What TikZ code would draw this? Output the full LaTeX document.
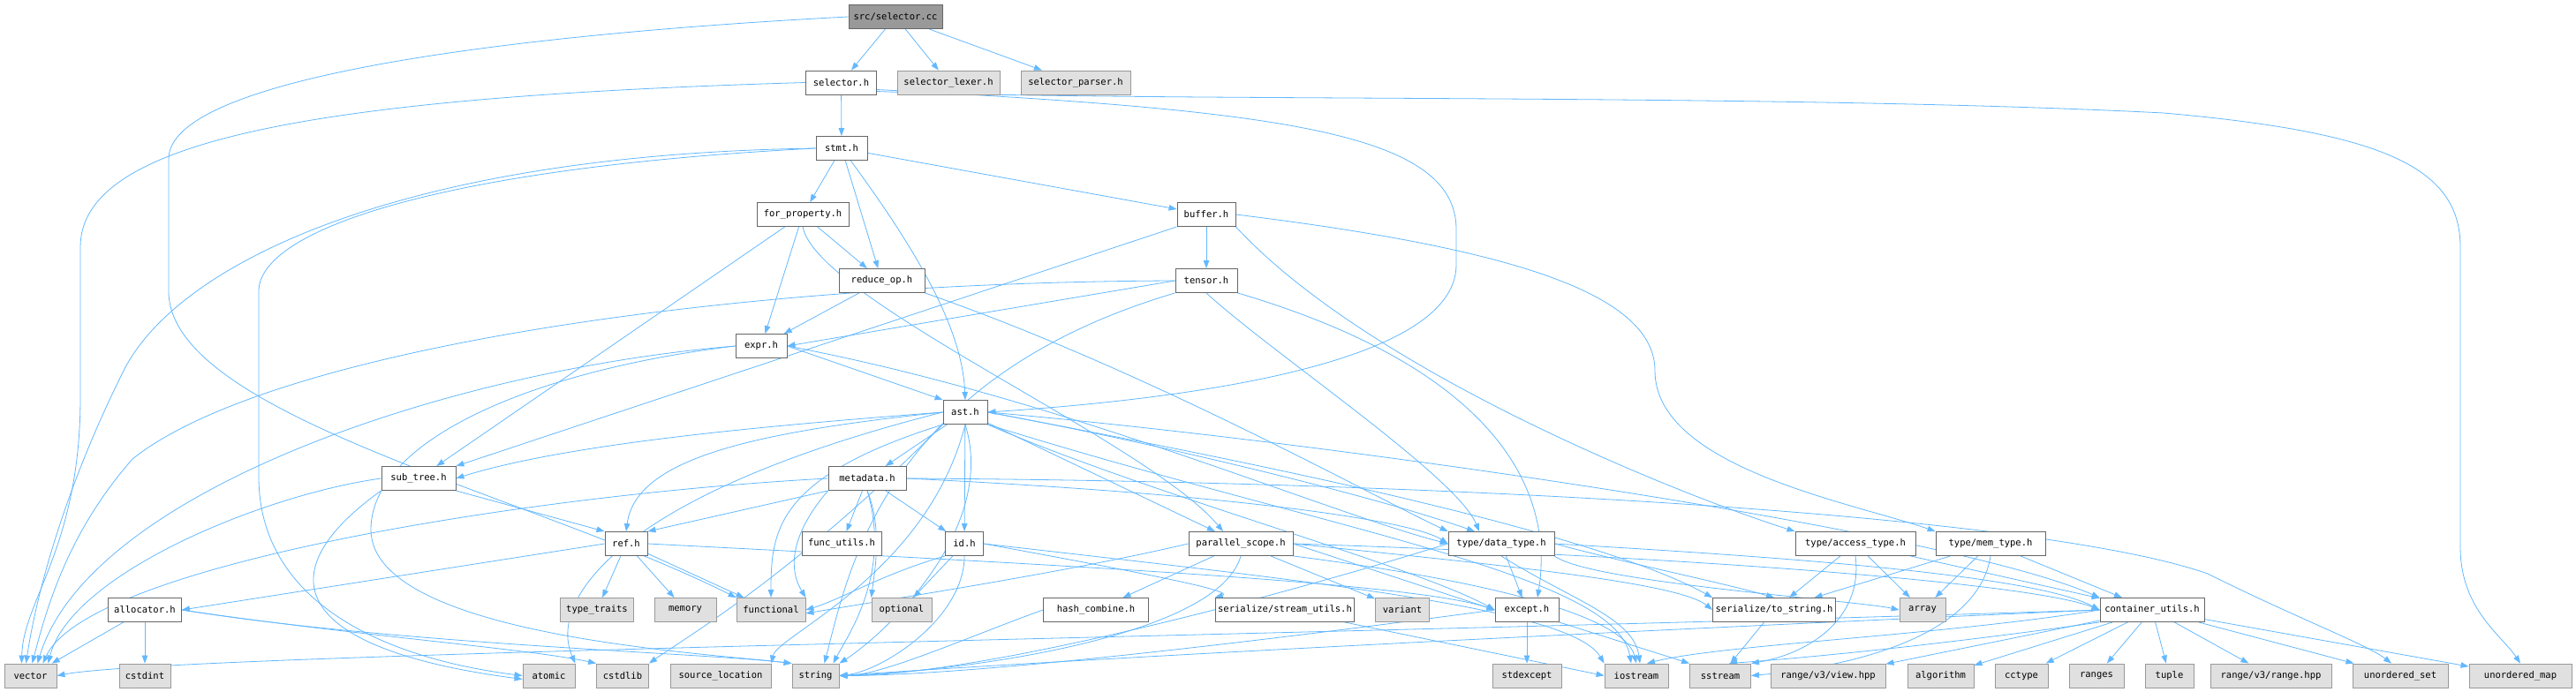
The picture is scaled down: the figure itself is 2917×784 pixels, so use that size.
\documentclass[tikz,border=0pt]{standalone}
\usepackage{fontspec}
\setmonofont{DejaVu Sans Mono}
\usetikzlibrary{arrows.meta, backgrounds}
\definecolor{kante}{HTML}{63B8FF}
\definecolor{rand}{HTML}{666666}
\definecolor{extrand}{HTML}{999999}
\definecolor{extfill}{HTML}{E0E0E0}

\begin{document}
\begin{tikzpicture}[
    x=1pt, y=-1pt,
    every node/.style={font=\ttfamily\fontsize{10.5}{12}\selectfont, inner xsep=3pt,
                       minimum height=27pt, line width=0.9pt},
    hdr/.style={draw=rand, fill=white},
    ext/.style={draw=extrand, fill=extfill},
    wurzel/.style={draw=rand, fill=extrand},
    dep/.style={kante, line width=0.8pt, -{Triangle[length=9pt,width=6.5pt]}},
  ]
  \useasboundingbox (0,0) rectangle (2917,784);

  % Ebene 0-3
  \node[wurzel, minimum width=106pt] (cc) at (1014,19) {src/selector.cc};
  \node[hdr, minimum width=80pt] (selh) at (952.5,93.5) {selector.h};
  \node[ext, minimum width=116pt] (lexer) at (1074,93.5) {selector\_lexer.h};
  \node[ext, minimum width=124pt] (parser) at (1218,93.5) {selector\_parser.h};
  \node[hdr, minimum width=58pt] (stmt) at (953,168) {stmt.h};
  \node[hdr, minimum width=104pt] (forprop) at (909,243) {for\_property.h};
  \node[hdr, minimum width=66pt] (buffer) at (1366,243) {buffer.h};
  \node[hdr, minimum width=97pt] (reduce) at (998.5,318) {reduce\_op.h};
  \node[hdr, minimum width=70pt] (tensor) at (1366,318) {tensor.h};
  \node[hdr, minimum width=58pt] (expr) at (862,392) {expr.h};
  \node[hdr, minimum width=50pt] (ast) at (1093,467) {ast.h};

  % Ebene 4-5
  \node[hdr, minimum width=84pt] (subtree) at (474,542) {sub\_tree.h};
  \node[hdr, minimum width=88pt] (meta) at (982,542) {metadata.h};
  \node[hdr, minimum width=48pt] (ref) at (709,616) {ref.h};
  \node[hdr, minimum width=90pt] (funcu) at (953,616) {func\_utils.h};
  \node[hdr, minimum width=43pt] (id) at (1092,616) {id.h};
  \node[hdr, minimum width=118pt] (pscope) at (1405,616) {parallel\_scope.h};
  \node[hdr, minimum width=120pt] (dtype) at (1700,616) {type/data\_type.h};
  \node[hdr, minimum width=136pt] (acctype) at (2101,616) {type/access\_type.h};
  \node[hdr, minimum width=124pt] (memtype) at (2254,616) {type/mem\_type.h};

  % Ebene 6
  \node[hdr, minimum width=83pt] (alloc) at (164,691) {allocator.h};
  \node[ext, minimum width=83pt] (ttraits) at (676,691) {type\_traits};
  \node[ext, minimum width=70pt] (memory) at (776,691) {memory};
  \node[ext, minimum width=78pt] (functional) at (873,691) {functional};
  \node[ext, minimum width=68pt] (optional) at (1021,691) {optional};
  \node[hdr, minimum width=119pt] (hashc) at (1241,691) {hash\_combine.h};
  \node[hdr, minimum width=157pt] (streamu) at (1455,691) {serialize/stream\_utils.h};
  \node[ext, minimum width=61pt] (variant) at (1588,691) {variant};
  \node[hdr, minimum width=72pt] (except) at (1729,691) {except.h};
  \node[hdr, minimum width=136pt] (tostr) at (2009,691) {serialize/to\_string.h};
  \node[ext, minimum width=52pt] (array) at (2177,691) {array};
  \node[hdr, minimum width=118pt] (cutils) at (2437,691) {container\_utils.h};

  % Systemheader unten
  \foreach \n/\x/\w/\t in {vector/34.5/59/vector, cstdint/164/58/cstdint,
      atomic/621.5/59/atomic, cstdlib/705/59/cstdlib, srcloc/816/114/source\_location,
      string/923.5/53/string, stdexc/1729/78/stdexcept, iostream/1853/72/iostream,
      sstream/1948/69/sstream, rview/2070/130/{range/v3/view.hpp}, algo/2197.5/75/algorithm,
      cctype/2289/60/cctype, ranges/2374/62/ranges, tuple/2456.5/55/tuple,
      rrange/2571.5/137/{range/v3/range.hpp}, uset/2718/108/unordered\_set,
      umap/2854/116/unordered\_map}
    \node[ext, minimum width=\w pt] (\n) at (\x,765.5) {\t};

  \begin{scope}[on background layer]
  % src/selector.cc
  \draw[dep] (cc) -- (selh);
  \draw[dep] (cc) -- (lexer);
  \draw[dep] (cc) -- (parser);
  \draw[dep] (cc.west) .. controls (560,40) and (191,90) .. (191,180) -- (191,330)
    .. controls (191,470) and (600,560) .. (functional.north west);

  % selector.h
  \draw[dep] (selh) -- (stmt);
  \draw[dep] (selh.west) .. controls (350,110) and (91,160) .. (91,280) -- (91,450)
    .. controls (91,620) and (26,680) .. ([xshift=-10pt]vector.north);
  \draw[dep] ([yshift=-8pt]selh.east) .. controls (1450,125) and (1649,150) .. (1649,260) -- (1649,300)
    .. controls (1649,420) and (1300,455) .. (ast.east);
  \draw[dep] ([yshift=-10pt]selh.east) .. controls (1300,116) and (2000,105) .. (2450,128)
    .. controls (2700,150) and (2786,190) .. (2786,280) -- (2786,620)
    .. controls (2786,690) and (2833,720) .. (umap.north);

  % stmt.h
  \draw[dep] (stmt) -- (forprop);
  \draw[dep] (stmt) -- (reduce);
  \draw[dep] (stmt) -- (buffer);
  \draw[dep] (stmt) .. controls (1050,300) and (1090,380) .. (ast.north);
  \draw[dep] (stmt.west) .. controls (450,175) and (200,300) .. (140,420)
    .. controls (70,560) and (40,680) .. ([xshift=-5pt]vector.north);
  \draw[dep] (stmt.west) .. controls (500,190) and (293,260) .. (293,330) -- (293,540)
    .. controls (293,680) and (430,745) .. (atomic.west);

  % for_property.h, reduce_op.h
  \draw[dep] (forprop) -- (subtree);
  \draw[dep] (forprop) -- (expr);
  \draw[dep] (forprop) -- (reduce);
  \draw[dep] (forprop.south) .. controls (925,340) and (1300,500) .. ([xshift=-20pt]pscope.north);
  \draw[dep] (reduce) -- (expr);
  \draw[dep] (reduce.south east) .. controls (1300,420) and (1550,560) .. (dtype.north west);

  % buffer.h, tensor.h
  \draw[dep] (buffer) -- (tensor);
  \draw[dep] (buffer.south west) -- (subtree.north east);
  \draw[dep] (buffer.south east) .. controls (1550,420) and (1900,560) .. (acctype.north west);
  \draw[dep] (buffer.east) .. controls (1700,280) and (1874,330) .. (1874,420)
    .. controls (1874,530) and (2100,570) .. (memtype.north west);
  \draw[dep] (tensor.west) -- (expr.east);
  \draw[dep] (tensor.west) .. controls (800,320) and (300,400) .. (150,520)
    .. controls (80,600) and (55,680) .. ([xshift=2pt]vector.north);
  \draw[dep] (tensor.south west) .. controls (1000,430) and (960,650) .. ([xshift=10pt]string.north);
  \draw[dep] (tensor.south) .. controls (1440,400) and (1650,540) .. ([xshift=-25pt]dtype.north);
  \draw[dep] (tensor.south east) .. controls (1700,420) and (1760,560) .. ([xshift=12pt]except.north);

  % expr.h
  \draw[dep] (expr.east) -- (ast.north west);
  \draw[dep] (expr.east) .. controls (1200,450) and (1500,580) .. (dtype.west);
  \draw[dep] (expr.west) .. controls (500,420) and (100,560) .. ([xshift=8pt]vector.north);
  \draw[dep] (expr.west) .. controls (600,420) and (420,500) .. (420,600)
    .. controls (420,720) and (800,740) .. (string.north west);

  % ast.h
  \draw[dep] (ast) -- (meta);
  \draw[dep] (ast) -- (id);
  \draw[dep] (ast) -- (pscope);
  \draw[dep] (ast.west) .. controls (900,480) and (650,500) .. (subtree.east);
  \draw[dep] (ast.west) .. controls (850,490) and (720,520) .. (ref.north);
  \draw[dep] (ast.east) .. controls (1300,500) and (1550,560) .. ([xshift=-30pt]dtype.north);
  \draw[dep] (ast.south east) .. controls (1300,560) and (1600,640) .. (except.west);
  \draw[dep] (ast.east) .. controls (1400,520) and (1800,600) .. (tostr.north west);
  \draw[dep] (ast.east) .. controls (1500,500) and (2200,600) .. (cutils.north west);
  \draw[dep] (ast.south west) .. controls (880,540) and (873,600) .. (functional.north);
  \draw[dep] (ast.south) .. controls (1130,600) and (1000,720) .. (string.north east);
  \draw[dep] (ast.west) .. controls (700,560) and (620,680) .. (atomic.north east);
  \draw[dep] (ast.south west) .. controls (900,650) and (780,720) .. (cstdlib.north east);
  \draw[dep] (ast.south) .. controls (1050,650) and (880,720) .. (srcloc.north east);
  \draw[dep] (ast.south east) .. controls (1500,600) and (1830,650) .. ([xshift=-6pt]iostream.north);

  % metadata.h
  \draw[dep] (meta) -- (funcu);
  \draw[dep] (meta) -- (id);
  \draw[dep] (meta.south west) -- (ref.north east);
  \draw[dep] (meta.west) .. controls (600,560) and (100,640) .. ([xshift=14pt]vector.north);
  \draw[dep] (meta.south west) .. controls (900,600) and (890,640) .. (functional.north east);
  \draw[dep] (meta.south) .. controls (1000,600) and (990,650) .. (optional.north west);
  \draw[dep] (meta.south) .. controls (1010,650) and (960,720) .. ([xshift=20pt]string.north);
  \draw[dep] (meta.east) .. controls (1400,560) and (1600,590) .. (dtype.west);
  \draw[dep] (meta.east) .. controls (1600,545) and (2300,580) .. (2500,650)
    .. controls (2600,700) and (2680,730) .. ([xshift=-10pt]uset.north);

  % ref.h, sub_tree.h, allocator.h
  \draw[dep] (ref) -- (ttraits);
  \draw[dep] (ref) -- (memory);
  \draw[dep] (ref) -- (functional);
  \draw[dep] (ref.west) -- (alloc.east);
  \draw[dep] (ref.east) .. controls (1200,640) and (1600,660) .. (except.west);
  \draw[dep] (subtree.south east) -- (ref.north west);
  \draw[dep] (subtree.west) .. controls (300,560) and (80,650) .. ([xshift=20pt]vector.north);
  \draw[dep] (subtree.south west) .. controls (300,650) and (330,735) .. ([yshift=-4pt]atomic.west);
  \draw[dep] (alloc) -- (vector);
  \draw[dep] (alloc) -- (cstdint);
  \draw[dep] (alloc.east) .. controls (400,720) and (600,735) .. (cstdlib.north west);
  \draw[dep] (alloc.east) .. controls (450,730) and (800,740) .. (string.north west);

  % id.h
  \draw[dep] (id) -- (optional);
  \draw[dep] (id.south west) .. controls (1000,650) and (950,680) .. (functional.east);
  \draw[dep] (id.south) .. controls (1092,700) and (1000,760) .. (string.east);
  \draw[dep] (id.east) .. controls (1300,650) and (1400,670) .. (streamu.north west);
  \draw[dep] (id.east) .. controls (1500,660) and (1780,690) .. (iostream.north west);

  % parallel_scope.h
  \draw[dep] (pscope) -- (hashc);
  \draw[dep] (pscope) -- (variant);
  \draw[dep] (pscope.east) -- (except.west);
  \draw[dep] (pscope.east) .. controls (1700,640) and (1900,660) .. (tostr.west);
  \draw[dep] (pscope.east) .. controls (1900,630) and (2300,660) .. (cutils.west);
  \draw[dep] (pscope.south east) .. controls (1700,660) and (1840,700) .. (iostream.north);
  \draw[dep] (pscope.west) .. controls (1200,650) and (1000,680) .. ([yshift=-4pt]functional.east);
  \draw[dep] (pscope.south) .. controls (1380,720) and (1100,760) .. (string.east);
  \draw[dep] (hashc.west) .. controls (1100,720) and (1000,765) .. (string.east);
  \draw[dep] (streamu) -- (iostream.west);

  % except.h, type/data_type.h
  \draw[dep] (except) -- (stdexc);
  \draw[dep] (except.west) .. controls (1400,730) and (1100,765) .. (string.east);
  \draw[dep] (except.south east) -- (sstream.north west);
  \draw[dep] (dtype) -- (except);
  \draw[dep] (dtype.east) .. controls (1850,640) and (1950,660) .. (tostr.north);
  \draw[dep] (dtype.east) .. controls (2000,630) and (2300,650) .. (cutils.west);
  \draw[dep] (dtype.south east) .. controls (1800,660) and (2100,680) .. (array.west);
  \draw[dep] (dtype.south) .. controls (1780,680) and (1850,700) .. ([xshift=4pt]iostream.north);
  \draw[dep] (dtype.west) .. controls (1400,690) and (1100,765) .. (string.east);

  % type/access_type.h, type/mem_type.h
  \draw[dep] (acctype) -- (tostr);
  \draw[dep] (acctype) -- (array);
  \draw[dep] (acctype) -- (cutils);
  \draw[dep] (acctype.south) .. controls (2110,700) and (2050,740) .. (sstream.north east);
  \draw[dep] (memtype) -- (tostr);
  \draw[dep] (memtype) -- (array);
  \draw[dep] (memtype) -- (cutils);
  \draw[dep] (memtype.south) .. controls (2240,720) and (2100,755) .. (sstream.east);
  \draw[dep] (tostr) -- (sstream);

  % container_utils.h
  \foreach \z in {rview, algo, cctype, ranges, tuple, rrange, uset, umap}
    \draw[dep] (cutils) -- (\z);
  \draw[dep] (cutils.west) .. controls (2200,720) and (1950,730) .. ([xshift=12pt]iostream.north);
  \draw[dep] (cutils.south west) .. controls (2200,730) and (2050,745) .. ([xshift=10pt]sstream.north);
  \draw[dep] (cutils.west) .. controls (1500,730) and (1100,755) .. (string.east);
  \draw[dep] (cutils.west) .. controls (1500,720) and (200,740) .. (vector.east);
  \end{scope}
\end{tikzpicture}
\end{document}
